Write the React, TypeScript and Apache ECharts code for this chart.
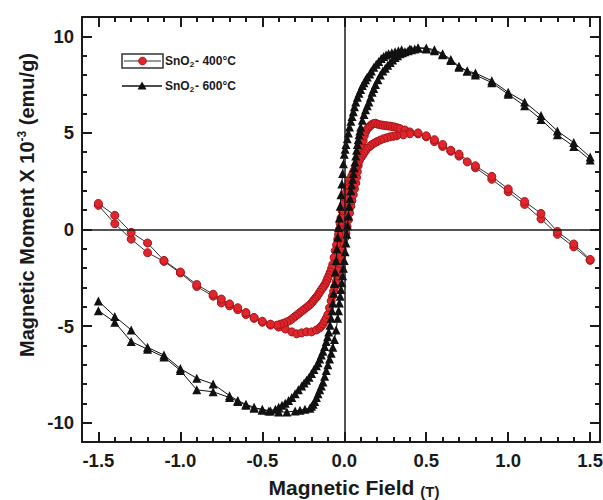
import React, { useEffect, useRef } from "react";
import * as echarts from "echarts";

// ---- tick values ----
const xMajorTicks = [-1.5, -1.0, -0.5, 0, 0.5, 1.0, 1.5];
const xMinorTicks = [-1.5, -1.4, -1.3, -1.2, -1.1, -1.0, -0.9, -0.8, -0.7, -0.6, -0.5, -0.4, -0.3, -0.2, -0.1, 0, 0.1, 0.2, 0.3, 0.4, 0.5, 0.6, 0.7, 0.8, 0.9, 1.0, 1.1, 1.2, 1.3, 1.4, 1.5];
const yMajorTicks = [-10, -5, 0, 5, 10];
const yMinorTicks = [-10, -9, -8, -7, -6, -5, -4, -3, -2, -1, 0, 1, 2, 3, 4, 5, 6, 7, 8, 9, 10];

// ---- SnO2 400°C : [field (T), moment (x10^-3 emu/g)] ----
const sno2_400_ascending: [number, number][] = [
  [-1.5, 1.25], [-1.4, 0.3], [-1.3, -0.5], [-1.2, -1.2], [-1.1, -1.65], [-1.0, -2.25], [-0.9, -2.95], [-0.8, -3.45],
  [-0.75, -3.8], [-0.7, -3.95], [-0.65, -4.15], [-0.6, -4.4], [-0.55, -4.6], [-0.5, -4.8], [-0.45, -4.95], [-0.4, -5.05],
  [-0.36, -5.15], [-0.32, -5.3], [-0.29, -5.4], [-0.26, -5.35], [-0.23, -5.3], [-0.2, -5.3], [-0.17, -5.2], [-0.15, -5.1],
  [-0.14, -5.0], [-0.13, -4.9], [-0.12, -4.75], [-0.11, -4.6], [-0.1, -4.4], [-0.09, -4.05], [-0.08, -3.7], [-0.072, -3.45],
  [-0.065, -3.2], [-0.057, -2.95], [-0.05, -2.7], [-0.042, -2.4], [-0.035, -2.1], [-0.027, -1.75], [-0.02, -1.4], [-0.012, -1.05],
  [-0.005, -0.7], [0.002, -0.45], [0.01, -0.2], [0.017, 0.15], [0.025, 0.5], [0.032, 0.85], [0.04, 1.2], [0.047, 1.5],
  [0.055, 1.8], [0.062, 2.1], [0.07, 2.4], [0.075, 2.7], [0.08, 3.0], [0.085, 3.3], [0.09, 3.6], [0.095, 3.85],
  [0.1, 4.1], [0.107, 4.35], [0.115, 4.6], [0.122, 4.85], [0.13, 5.05], [0.14, 5.2], [0.15, 5.3], [0.16, 5.38],
  [0.17, 5.45], [0.18, 5.48], [0.19, 5.5], [0.205, 5.45], [0.22, 5.42], [0.235, 5.4], [0.25, 5.38], [0.265, 5.36],
  [0.28, 5.35], [0.295, 5.32], [0.31, 5.3], [0.325, 5.26], [0.34, 5.22], [0.37, 5.15], [0.4, 5.05], [0.45, 4.95],
  [0.5, 4.8], [0.55, 4.55], [0.6, 4.3], [0.65, 4.05], [0.7, 3.8], [0.75, 3.5], [0.8, 3.2], [0.9, 2.6],
  [1.0, 1.95], [1.1, 1.3], [1.2, 0.55], [1.3, -0.25], [1.4, -0.9], [1.5, -1.6],
];
const sno2_400_descending: [number, number][] = [
  [1.5, -1.55], [1.4, -0.75], [1.3, -0.1], [1.2, 0.83], [1.1, 1.45], [1.0, 2.1], [0.9, 2.75], [0.8, 3.3],
  [0.7, 3.9], [0.65, 4.1], [0.6, 4.4], [0.55, 4.65], [0.5, 4.85], [0.45, 5.0], [0.4, 4.95], [0.36, 4.9],
  [0.32, 4.85], [0.3, 4.83], [0.28, 4.8], [0.26, 4.75], [0.24, 4.7], [0.22, 4.63], [0.2, 4.55], [0.185, 4.48],
  [0.17, 4.4], [0.155, 4.3], [0.14, 4.2], [0.13, 4.08], [0.12, 3.95], [0.11, 3.82], [0.1, 3.7], [0.092, 3.58],
  [0.085, 3.45], [0.077, 3.32], [0.07, 3.2], [0.062, 3.08], [0.055, 2.95], [0.047, 2.8], [0.04, 2.65], [0.032, 2.48],
  [0.025, 2.3], [0.017, 2.1], [0.01, 1.9], [0.002, 1.6], [-0.005, 1.3], [-0.012, 0.95], [-0.02, 0.6], [-0.025, 0.3],
  [-0.03, 0.0], [-0.035, -0.25], [-0.04, -0.5], [-0.047, -0.8], [-0.055, -1.1], [-0.062, -1.45], [-0.07, -1.8], [-0.077, -2.0],
  [-0.085, -2.2], [-0.092, -2.35], [-0.1, -2.5], [-0.107, -2.65], [-0.115, -2.8], [-0.122, -2.9], [-0.13, -3.0], [-0.14, -3.12],
  [-0.15, -3.25], [-0.16, -3.38], [-0.17, -3.5], [-0.18, -3.6], [-0.19, -3.7], [-0.2, -3.8], [-0.21, -3.9], [-0.225, -4.0],
  [-0.24, -4.1], [-0.255, -4.2], [-0.27, -4.3], [-0.285, -4.4], [-0.3, -4.5], [-0.315, -4.6], [-0.33, -4.7], [-0.35, -4.78],
  [-0.37, -4.85], [-0.39, -4.9], [-0.41, -4.95], [-0.45, -4.9], [-0.5, -4.75], [-0.55, -4.55], [-0.6, -4.3], [-0.65, -4.05],
  [-0.7, -3.85], [-0.75, -3.6], [-0.8, -3.35], [-0.9, -2.85], [-1.0, -2.2], [-1.1, -1.6], [-1.2, -0.7], [-1.3, -0.15],
  [-1.4, 0.73], [-1.5, 1.35],
];

// ---- SnO2 600°C ----
const sno2_600_ascending: [number, number][] = [
  [-1.5, -4.2], [-1.4, -4.8], [-1.3, -5.8], [-1.2, -6.2], [-1.1, -6.6], [-1.0, -7.3], [-0.9, -8.3], [-0.8, -8.4],
  [-0.7, -8.7], [-0.65, -8.9], [-0.6, -9.1], [-0.55, -9.25], [-0.5, -9.3], [-0.45, -9.4], [-0.4, -9.45], [-0.35, -9.45],
  [-0.3, -9.4], [-0.27, -9.35], [-0.24, -9.3], [-0.21, -9.25], [-0.2, -9.15], [-0.19, -9.05], [-0.18, -8.9], [-0.17, -8.7],
  [-0.16, -8.5], [-0.15, -8.3], [-0.14, -8.1], [-0.13, -7.9], [-0.12, -7.6], [-0.11, -7.3], [-0.1, -7.0], [-0.09, -6.7],
  [-0.08, -6.4], [-0.07, -6.1], [-0.06, -5.7], [-0.05, -5.2], [-0.04, -4.6], [-0.035, -4.2], [-0.03, -3.8], [-0.025, -3.45],
  [-0.02, -3.1], [-0.015, -2.75], [-0.01, -2.4], [-0.005, -2.0], [0.0, -1.6], [0.005, -1.15], [0.01, -0.7], [0.015, -0.25],
  [0.02, 0.2], [0.025, 0.7], [0.03, 1.2], [0.035, 1.6], [0.04, 2.0], [0.045, 2.3], [0.05, 2.6], [0.055, 2.9],
  [0.06, 3.2], [0.065, 3.5], [0.07, 3.8], [0.075, 4.1], [0.08, 4.4], [0.085, 4.65], [0.09, 4.9], [0.095, 5.1],
  [0.1, 5.3], [0.11, 5.65], [0.12, 5.95], [0.13, 6.2], [0.14, 6.4], [0.15, 6.6], [0.16, 6.85], [0.17, 7.1],
  [0.18, 7.3], [0.19, 7.5], [0.205, 7.75], [0.22, 8.0], [0.235, 8.2], [0.25, 8.35], [0.265, 8.5], [0.28, 8.65],
  [0.295, 8.78], [0.31, 8.9], [0.325, 9.0], [0.34, 9.1], [0.355, 9.15], [0.37, 9.2], [0.39, 9.25], [0.41, 9.3],
  [0.43, 9.35], [0.45, 9.4], [0.5, 9.4], [0.55, 9.3], [0.6, 9.1], [0.65, 8.8], [0.7, 8.45], [0.75, 8.2],
  [0.8, 8.0], [0.9, 7.6], [1.0, 7.0], [1.1, 6.4], [1.2, 5.7], [1.3, 4.9], [1.4, 4.3], [1.5, 3.6],
];
const sno2_600_descending: [number, number][] = [
  [1.5, 3.75], [1.4, 4.5], [1.3, 5.1], [1.2, 5.9], [1.1, 6.6], [1.0, 7.1], [0.9, 7.7], [0.8, 8.1],
  [0.75, 8.2], [0.7, 8.4], [0.65, 8.75], [0.6, 9.05], [0.55, 9.25], [0.5, 9.35], [0.45, 9.4], [0.4, 9.35],
  [0.35, 9.3], [0.33, 9.25], [0.31, 9.2], [0.29, 9.15], [0.27, 9.1], [0.255, 9.03], [0.24, 8.95], [0.225, 8.85],
  [0.21, 8.7], [0.195, 8.55], [0.18, 8.4], [0.165, 8.2], [0.155, 8.05], [0.14, 7.9], [0.13, 7.75], [0.12, 7.6],
  [0.11, 7.45], [0.1, 7.25], [0.09, 7.05], [0.08, 6.85], [0.07, 6.6], [0.062, 6.35], [0.055, 6.1], [0.047, 5.85],
  [0.04, 5.6], [0.032, 5.3], [0.025, 5.0], [0.018, 4.7], [0.01, 4.4], [0.005, 4.15], [0.0, 3.9], [-0.005, 3.4],
  [-0.01, 2.9], [-0.015, 2.35], [-0.02, 1.8], [-0.025, 1.2], [-0.03, 0.6], [-0.035, 0.1], [-0.04, -0.4], [-0.045, -1.0],
  [-0.05, -1.6], [-0.055, -2.2], [-0.06, -2.8], [-0.065, -3.3], [-0.07, -3.8], [-0.075, -4.2], [-0.08, -4.6], [-0.087, -4.95],
  [-0.095, -5.3], [-0.102, -5.55], [-0.11, -5.8], [-0.12, -6.05], [-0.13, -6.3], [-0.14, -6.5], [-0.15, -6.7], [-0.16, -6.9],
  [-0.17, -7.05], [-0.185, -7.25], [-0.2, -7.45], [-0.215, -7.65], [-0.23, -7.8], [-0.245, -7.95], [-0.26, -8.1], [-0.28, -8.3],
  [-0.3, -8.5], [-0.32, -8.7], [-0.34, -8.85], [-0.36, -9.0], [-0.38, -9.1], [-0.4, -9.2], [-0.42, -9.3], [-0.46, -9.4],
  [-0.5, -9.35], [-0.55, -9.2], [-0.6, -9.05], [-0.65, -8.85], [-0.7, -8.6], [-0.8, -8.0], [-0.9, -7.7], [-1.0, -7.2],
  [-1.1, -6.5], [-1.2, -6.1], [-1.3, -5.2], [-1.4, -4.5], [-1.5, -3.7],
];

const FONT = "'Liberation Sans', Arial, Helvetica, sans-serif";
const INK = "#1a1a1a";
const RED = "#e0262c";
const RED_EDGE = "#a8151a";

const X_MIN = -1.6;
const X_MAX = 1.56;
const Y_MIN = -11;
const Y_MAX = 11;

function makeX(position: "top" | "bottom", ticks: number[], len: number, labels: boolean, line: boolean) {
  return {
    type: "value",
    position,
    min: X_MIN,
    max: X_MAX,
    axisLine: { show: line, onZero: false, lineStyle: { color: INK, width: 2 } },
    axisTick: { show: true, inside: true, length: len, customValues: ticks, lineStyle: { color: INK, width: 2 } },
    axisLabel: labels
      ? {
          show: true,
          customValues: xMajorTicks,
          formatter: (v: number) => v.toFixed(1),
          fontSize: 18.5,
          fontWeight: "bold",
          fontFamily: FONT,
          color: INK,
          margin: 9,
        }
      : { show: false },
    splitLine: { show: false },
  };
}

function makeY(position: "left" | "right", ticks: number[], len: number, labels: boolean, line: boolean) {
  return {
    type: "value",
    position,
    min: Y_MIN,
    max: Y_MAX,
    axisLine: { show: line, onZero: false, lineStyle: { color: INK, width: 2 } },
    axisTick: { show: true, inside: true, length: len, customValues: ticks, lineStyle: { color: INK, width: 2 } },
    axisLabel: labels
      ? {
          show: true,
          customValues: yMajorTicks,
          formatter: (v: number) => String(v),
          fontSize: 18.5,
          fontWeight: "bold",
          fontFamily: FONT,
          color: INK,
          margin: 8,
        }
      : { show: false },
    splitLine: { show: false },
  };
}

export default function App() {
  const ref = useRef<HTMLDivElement>(null);

  useEffect(() => {
    if (!ref.current) return;
    const chart = echarts.init(ref.current, undefined, { renderer: "svg" });
    const option: any = {
      animation: false,
      backgroundColor: "#ffffff",
      grid: { left: 82, right: 3, top: 17, bottom: 58, containLabel: false, outerBoundsMode: "none" },
      xAxis: [
        makeX("bottom", xMajorTicks, 10, true, true),
        makeX("bottom", xMinorTicks, 5, false, false),
        makeX("top", xMajorTicks, 10, false, true),
        makeX("top", xMinorTicks, 5, false, false),
      ],
      yAxis: [
        makeY("left", yMajorTicks, 10, true, true),
        makeY("left", yMinorTicks, 5, false, false),
        makeY("right", yMajorTicks, 10, false, true),
        makeY("right", yMinorTicks, 5, false, false),
      ],
      series: [
        {
          type: "line",
          xAxisIndex: 0,
          yAxisIndex: 0,
          data: [],
          silent: true,
          z: 1,
          markLine: {
            silent: true,
            symbol: ["none", "none"],
            label: { show: false },
            lineStyle: { color: INK, width: 1.5, type: "solid" },
            emphasis: { disabled: true },
            data: [{ xAxis: 0 }, { yAxis: 0 }],
          },
        },
        {
          name: "SnO2 - 400°C",
          type: "line",
          xAxisIndex: 0,
          yAxisIndex: 0,
          data: [...sno2_400_ascending, ...sno2_400_descending],
          symbol: "circle",
          symbolSize: 8,
          showAllSymbol: true,
          itemStyle: { color: RED, borderColor: RED_EDGE, borderWidth: 1 },
          lineStyle: { color: "#333", width: 1 },
          emphasis: { disabled: true },
          z: 2,
        },
        {
          name: "SnO2 - 600°C",
          type: "line",
          xAxisIndex: 0,
          yAxisIndex: 0,
          data: [...sno2_600_ascending, ...sno2_600_descending],
          symbol: "triangle",
          symbolSize: 9,
          showAllSymbol: true,
          itemStyle: { color: "#111" },
          lineStyle: { color: "#111", width: 1 },
          emphasis: { disabled: true },
          z: 3,
        },
      ],
      graphic: [
        // y-axis title
        {
          type: "text",
          x: 27,
          y: 205,
          rotation: Math.PI / 2,
          style: {
            text: "{b|Magnetic Moment X 10}{s|-3}{b| (emu/g)}",
            align: "center",
            verticalAlign: "middle",
            fill: INK,
            rich: {
              b: { fontSize: 20, fontWeight: "bold", fontFamily: FONT, fill: INK, color: INK, lineHeight: 23 },
              s: { fontSize: 12, fontWeight: "bold", fontFamily: FONT, fill: INK, color: INK, verticalAlign: "top", lineHeight: 23 },
            },
          },
        },
        // x-axis title
        {
          type: "text",
          x: 354,
          y: 487,
          style: {
            text: "{b|Magnetic Field }{s|(T)}",
            align: "center",
            verticalAlign: "middle",
            fill: INK,
            rich: {
              b: { fontSize: 21, fontWeight: "bold", fontFamily: FONT, fill: INK, color: INK, lineHeight: 24 },
              s: { fontSize: 15, fontWeight: "bold", fontFamily: FONT, fill: INK, color: INK, verticalAlign: "bottom", lineHeight: 24 },
            },
          },
        },
        // legend: 400°C
        {
          type: "rect",
          shape: { x: 122, y: 54, width: 41, height: 14 },
          style: { fill: "none", stroke: "#333", lineWidth: 1.5 },
        },
        {
          type: "line",
          shape: { x1: 124, y1: 61, x2: 161, y2: 61 },
          style: { stroke: "#333", lineWidth: 1 },
        },
        {
          type: "circle",
          shape: { cx: 142.5, cy: 61, r: 3.8 },
          style: { fill: RED, stroke: RED_EDGE, lineWidth: 1 },
        },
        {
          type: "text",
          x: 165,
          y: 61,
          style: {
            text: "{a|SnO}{s|2}{a|- 400°C}",
            verticalAlign: "middle",
            rich: {
              a: { fontSize: 12, fontWeight: "bold", fontFamily: FONT, fill: INK, color: INK, lineHeight: 14 },
              s: { fontSize: 8, fontWeight: "bold", fontFamily: FONT, fill: INK, color: INK, verticalAlign: "bottom", lineHeight: 14, padding: [6, 1, 0, 0] },
            },
          },
        },
        // legend: 600°C
        {
          type: "line",
          shape: { x1: 122, y1: 86, x2: 162, y2: 86 },
          style: { stroke: "#111", lineWidth: 1.5 },
        },
        {
          type: "polygon",
          shape: { points: [[142, 81.5], [146.5, 89.5], [137.5, 89.5]] },
          style: { fill: "#111" },
        },
        {
          type: "text",
          x: 165,
          y: 86,
          style: {
            text: "{a|SnO}{s|2}{a|- 600°C}",
            verticalAlign: "middle",
            rich: {
              a: { fontSize: 12, fontWeight: "bold", fontFamily: FONT, fill: INK, color: INK, lineHeight: 14 },
              s: { fontSize: 8, fontWeight: "bold", fontFamily: FONT, fill: INK, color: INK, verticalAlign: "bottom", lineHeight: 14, padding: [6, 1, 0, 0] },
            },
          },
        },
      ],
    };
    chart.setOption(option);
    return () => chart.dispose();
  }, []);

  return (
    <div
      ref={ref}
      style={{ position: "absolute", left: 0, top: 0, width: 603, height: 500, background: "#fff" }}
    />
  );
}
